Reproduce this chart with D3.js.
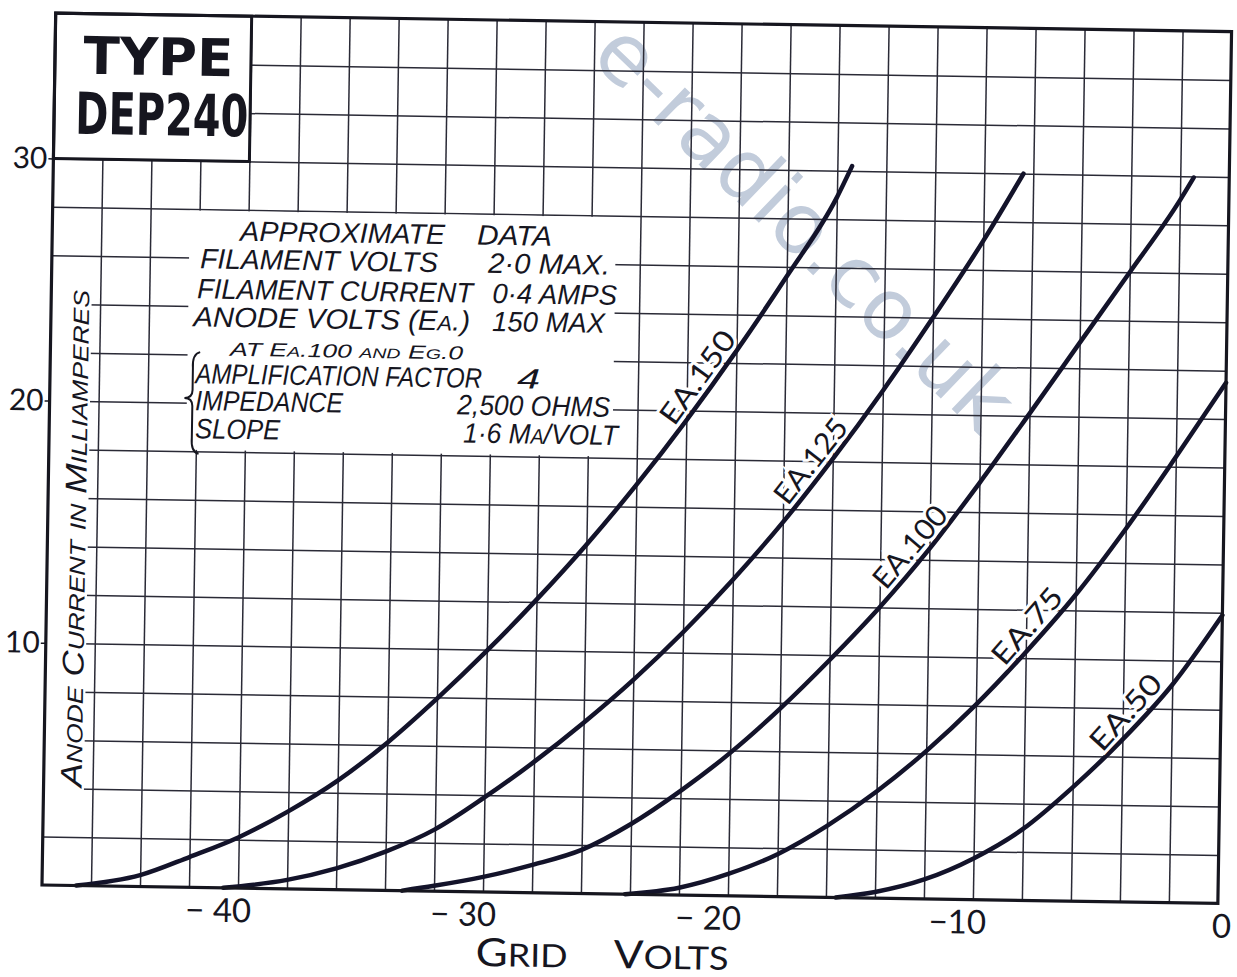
<!DOCTYPE html>
<meta charset="utf-8">
<script src="https://d3js.org/d3.v7.min.js"></script>
<style>
body { margin: 0; background: #fff; }
</style>
<div id="chart"></div>
<script>

// anode current (mA) against grid volts, one pair of arrays per anode voltage
var ea150_v  = [-46.6, -44, -42, -40, -38, -36, -34, -32, -30, -28, -26, -24, -22, -20, -18, -16, -15.4];
var ea150_ma = [0, 0.47, 1.25, 2.1, 3.2, 4.5, 6.1, 7.95, 9.95, 12.1, 14.4, 16.9, 19.6, 22.5, 25.6, 28.9, 30.2];
var ea125_v  = [-40.6, -38, -36, -34, -32, -30, -28, -26, -24, -22, -20, -18, -16, -14, -12, -10, -8.4];
var ea125_ma = [0, 0.37, 0.88, 1.6, 2.55, 3.9, 5.4, 7.05, 8.85, 10.85, 13.05, 15.45, 18.1, 20.95, 24.0, 27.2, 30.0];
var ea100_v  = [-33.3, -32, -30, -28, -26, -24, -22, -20, -18, -16, -14, -12, -10, -8, -6, -4, -2, -1.45];
var ea100_ma = [0, 0.22, 0.62, 1.15, 1.8, 2.9, 4.3, 5.9, 7.75, 9.8, 12.0, 14.45, 17.2, 20.1, 23.05, 26.0, 29.0, 29.95];
var ea75_v   = [-24.2, -22, -20, -18, -16, -14, -12, -10, -8, -6, -4, -2, 0];
var ea75_ma  = [0, 0.3, 0.9, 1.75, 2.95, 4.4, 6.1, 8.05, 10.25, 12.65, 15.4, 18.4, 21.5];
var ea50_v   = [-15.6, -14, -12, -10, -8, -6, -4, -2, 0];
var ea50_ma  = [0, 0.25, 0.8, 1.7, 2.95, 4.7, 6.7, 9.0, 11.9];

var curveNames = ["EA.150", "EA.125", "EA.100", "EA.75", "EA.50"];
var labelAtMa  = [21, 17.6, 14.1, 10.9, 7.4];

var xTicks = [-40, -30, -20, -10, 0];
var xTickLabels = ["\u2212 40", "\u2212 30", "\u2212 20", "\u221210", "0"];
var yTicks = [10, 20, 30];

// the printed data block (lower case = small capitals)
var noteText = ["APPROXIMATE", "DATA",
  "FILAMENT VOLTS", "2\u00b70 MAX.",
  "FILAMENT CURRENT", "0\u00b74 AMPS",
  "ANODE VOLTS (Ea.)", "150 MAX",
  "AT Ea.100 and Eg.0",
  "AMPLIFICATION FACTOR", "4",
  "IMPEDANCE", "2,500 OHMS",
  "SLOPE", "1\u00b76 Ma/VOLT"];
// [from volts, to volts, baseline mA, font size]
var noteLayout = [[-40.33, -31.96, 26.72, 28], [-30.66, -27.6, 26.72, 28],
  [-41.95, -32.23, 25.56, 28], [-30.19, -25.21, 25.56, 28],
  [-42.05, -30.78, 24.32, 28], [-30.0, -24.91, 24.32, 28],
  [-42.19, -30.89, 23.16, 28], [-29.99, -25.38, 23.16, 28],
  [-40.67, -31.15, 21.97, 19],
  [-42.07, -30.36, 20.81, 28], [-28.93, -27.99, 20.81, 28],
  [-42.06, -36.02, 19.7, 28], [-31.36, -25.12, 19.7, 28],
  [-42.04, -38.57, 18.54, 28], [-31.1, -24.78, 18.54, 28]];

var width = 1237, height = 977;
var plotW = 1176, plotH = 872;
var ink = "#16161f";

var svg = d3.select("#chart").append("svg")
    .attr("width", width)
    .attr("height", height);

svg.append("rect").attr("width", width).attr("height", height).attr("fill", "#fff");

// faint watermark across the scan
svg.append("text")
    .attr("transform", "translate(785,248) rotate(44)")
    .attr("text-anchor", "middle")
    .style("font-family", "DejaVu Sans")
    .style("font-size", "84px")
    .attr("fill", "#c2ccdb")
    .text("e-radio.co.uk");

// the scan sits slightly skewed, so the whole chart is turned a little
var g = svg.append("g")
    .attr("transform", "translate(42,885) rotate(0.9) translate(0," + (-plotH) + ")");

var x = d3.scaleLinear().domain([-48, 0]).range([0, plotW]);
var y = d3.scaleLinear().domain([0, 36]).range([plotH, 0]);

// grid
g.append("g").attr("class", "grid")
    .attr("transform", "translate(0," + plotH + ")")
    .call(d3.axisBottom(x).tickValues(d3.range(-46, 0, 2)).tickSize(-plotH).tickFormat(""))
    .call(function(s) { s.select(".domain").remove(); });
g.append("g").attr("class", "grid")
    .call(d3.axisLeft(y).tickValues(d3.range(2, 36, 2)).tickSize(-plotW).tickFormat(""))
    .call(function(s) { s.select(".domain").remove(); });
g.selectAll(".grid line").attr("stroke", "#2a2a36").attr("stroke-width", 1.5);

function box(x0, x1, y0, y1) {
  return g.append("rect")
      .attr("x", x(x0)).attr("y", y(y1))
      .attr("width", x(x1) - x(x0)).attr("height", y(y0) - y(y1))
      .attr("fill", "#fff");
}

// white patches behind the lettering
box(-48, -46.35, 3.9, 24.8);
box(-42.4, -25.0, 18.06, 27.94);
box(-48, -40, 30, 36).attr("stroke", ink).attr("stroke-width", 3);

function smallCaps(t, str, big, small) {
  str.match(/[a-z]+|[^a-z]+/g).forEach(function(p) {
    t.append("tspan")
        .attr("font-size", /[a-z]/.test(p) ? small : big)
        .text(p.toUpperCase());
  });
}

// place a text between two positions by stretching it
function fitText(t, x0, x1, yy) {
  var k = Math.abs(x1 - x0) / t.node().getComputedTextLength();
  t.attr("transform", "translate(" + x0 + "," + yy + ") scale(" + k + ",1)");
}

// title
var title = [["TYPE", -46.84, -40.72, 33.51, 52], ["DEP240", -47.13, -40.07, 31.03, 58]];
title.forEach(function(d) {
  var t = g.append("text")
      .attr("font-family", "DejaVu Sans")
      .attr("font-weight", "bold")
      .attr("font-size", d[4])
      .attr("fill", ink)
      .text(d[0]);
  fitText(t, x(d[1]), x(d[2]), y(d[3]));
});

// data block
noteText.forEach(function(s, i) {
  var L = noteLayout[i];
  var t = g.append("text")
      .attr("font-family", "Liberation Sans")
      .attr("font-style", "italic")
      .attr("fill", ink);
  smallCaps(t, s, L[3], Math.round(L[3] * 0.74));
  fitText(t, x(L[0]), x(L[1]), y(L[2]));
});

// brace in front of the last three lines
var bx = x(-42.05), bt = x(-42.5), b0 = y(22.1), b1 = y(17.9), bm = y(20.2);
g.append("path")
    .attr("d", "M" + (bx + 4) + "," + b0 +
        " Q" + (bx - 4) + "," + (b0 + 2) + " " + (bx - 3) + "," + (b0 + 16) +
        " L" + (bx - 3) + "," + (bm - 8) +
        " Q" + (bx - 3) + "," + bm + " " + bt + "," + bm +
        " Q" + (bx - 3) + "," + bm + " " + (bx - 3) + "," + (bm + 8) +
        " L" + (bx - 3) + "," + (b1 - 16) +
        " Q" + (bx - 4) + "," + (b1 - 2) + " " + (bx + 4) + "," + b1)
    .attr("fill", "none")
    .attr("stroke", ink)
    .attr("stroke-width", 2);

// curves
var series = [[ea150_v, ea150_ma], [ea125_v, ea125_ma], [ea100_v, ea100_ma], [ea75_v, ea75_ma], [ea50_v, ea50_ma]];
var line = d3.line()
    .x(function(d) { return x(d[0]); })
    .y(function(d) { return y(d[1]); })
    .curve(d3.curveMonotoneX);

series.forEach(function(s) {
  g.append("path")
      .datum(d3.zip(s[0], s[1]))
      .attr("d", line)
      .attr("fill", "none")
      .attr("stroke", "#13132a")
      .attr("stroke-width", 4.5)
      .attr("stroke-linecap", "round");
});

// labels along each curve
var labelLen = [108, 100, 98, 92, 92];
series.forEach(function(s, i) {
  var v = s[0], ma = s[1], at = labelAtMa[i], j = 1;
  while (j < ma.length - 1 && ma[j] < at) j++;
  var f = (at - ma[j - 1]) / (ma[j] - ma[j - 1]);
  var xv = v[j - 1] + f * (v[j] - v[j - 1]);
  var ang = Math.atan2(y(ma[j]) - y(ma[j - 1]), x(v[j]) - x(v[j - 1])) * 180 / Math.PI;
  var t = g.append("text")
      .attr("font-family", "Lato")
      .attr("font-size", 29)
      .attr("text-anchor", "middle")
      .attr("dy", -6)
      .attr("fill", ink)
      .attr("stroke", "#fff")
      .attr("stroke-width", 6)
      .attr("paint-order", "stroke")
      .text(curveNames[i]);
  var k = labelLen[i] / t.node().getComputedTextLength();
  t.attr("transform", "translate(" + x(xv) + "," + y(at) + ") rotate(" + ang + ") scale(" + k + ",1)");
});

// frame
g.append("rect")
    .attr("width", plotW).attr("height", plotH)
    .attr("fill", "none")
    .attr("stroke", ink)
    .attr("stroke-width", 3.2);

// axes
var yAxis = g.append("g")
    .call(d3.axisLeft(y).tickValues(yTicks).tickSize(5).tickPadding(1).tickFormat(d3.format("d")));
yAxis.select(".domain").remove();
yAxis.attr("font-family", "Lato").attr("font-size", 30);
yAxis.selectAll("line").attr("stroke", ink).attr("stroke-width", 1.5);
yAxis.selectAll("text").attr("fill", ink);

var xAxis = g.append("g")
    .attr("transform", "translate(0," + plotH + ")")
    .call(d3.axisBottom(x).tickValues(xTicks).tickSize(0).tickFormat(function(d, i) { return xTickLabels[i]; }));
xAxis.select(".domain").remove();
xAxis.attr("font-family", "Lato").attr("font-size", 33);
xAxis.selectAll("text")
    .attr("text-anchor", "end")
    .attr("dx", 13)
    .attr("y", 34)
    .attr("dy", 0)
    .attr("fill", ink);

// axis titles
var xt = [["Grid", -30.26, -26.5], ["Volts", -24.62, -19.93]];
xt.forEach(function(d) {
  var t = g.append("text").attr("font-family", "Lato").attr("fill", ink);
  smallCaps(t, d[0], 39, 32);
  fitText(t, x(d[1]), x(d[2]), y(-3.06));
});

var yl = g.append("text")
    .attr("font-family", "Liberation Sans")
    .attr("font-style", "italic")
    .attr("fill", ink);
smallCaps(yl, "Anode Current in Milliamperes", 30, 22);
var ylk = (y(4.06) - y(24.6)) / yl.node().getComputedTextLength();
yl.attr("transform", "translate(" + x(-46.45) + "," + y(4.06) + ") rotate(-90) scale(" + ylk + ",1)");

</script>
